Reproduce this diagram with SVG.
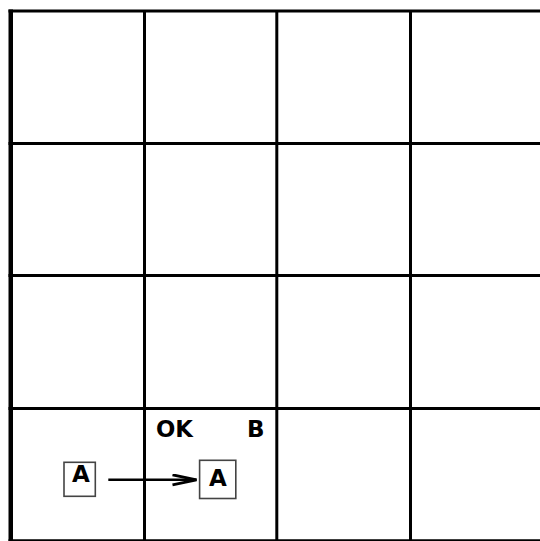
<svg xmlns="http://www.w3.org/2000/svg" width="540" height="541" viewBox="0 0 540 541">
<defs>
<style>
.grid{stroke:#000;stroke-width:3;fill:none}
.box{fill:#fff;stroke:#444;stroke-width:1.6}
.lbl{font-family:"DejaVu Sans",sans-serif;font-weight:bold;font-size:23px;fill:#000}
.conn{stroke:#000;stroke-width:2.5;fill:none}
</style>
<marker id="chev" markerUnits="userSpaceOnUse" markerWidth="30" markerHeight="16" refX="25" refY="6" orient="auto" viewBox="0 0 30 16">
<path d="M1,1 L25,6 L1,11" fill="none" stroke="#000" stroke-width="2.8"/>
</marker>
</defs>
<rect width="540" height="541" fill="#fff"/>
<g id="grid">
<line class="grid" x1="10.75" y1="9.5" x2="10.75" y2="541" style="stroke-width:4.5"/>
<line class="grid" x1="144.5" y1="11" x2="144.5" y2="541"/>
<line class="grid" x1="276.8" y1="11" x2="276.8" y2="541"/>
<line class="grid" x1="410.5" y1="11" x2="410.5" y2="541"/>
<line class="grid" x1="8.5" y1="11" x2="540" y2="11"/>
<line class="grid" x1="8.5" y1="143.4" x2="540" y2="143.4"/>
<line class="grid" x1="8.5" y1="275.6" x2="540" y2="275.6"/>
<line class="grid" x1="8.5" y1="408.5" x2="540" y2="408.5"/>
<line class="grid" x1="8.5" y1="540.8" x2="540" y2="540.8"/>
</g>
<g id="labels">
<text class="lbl" x="156" y="437" textLength="37" lengthAdjust="spacingAndGlyphs">OK</text>
<text class="lbl" x="247" y="437">B</text>
</g>
<g id="connectors">
<line class="conn" x1="108.3" y1="479.8" x2="196.5" y2="479.8" marker-end="url(#chev)"/>
</g>
<g id="nodeA1">
<rect class="box" x="64" y="462.3" width="31.3" height="34"/>
<text class="lbl" x="72" y="482">A</text>
</g>
<g id="nodeA2">
<rect class="box" x="199.6" y="460.3" width="36.2" height="38.2"/>
<text class="lbl" x="209" y="486.3">A</text>
</g>
</svg>
